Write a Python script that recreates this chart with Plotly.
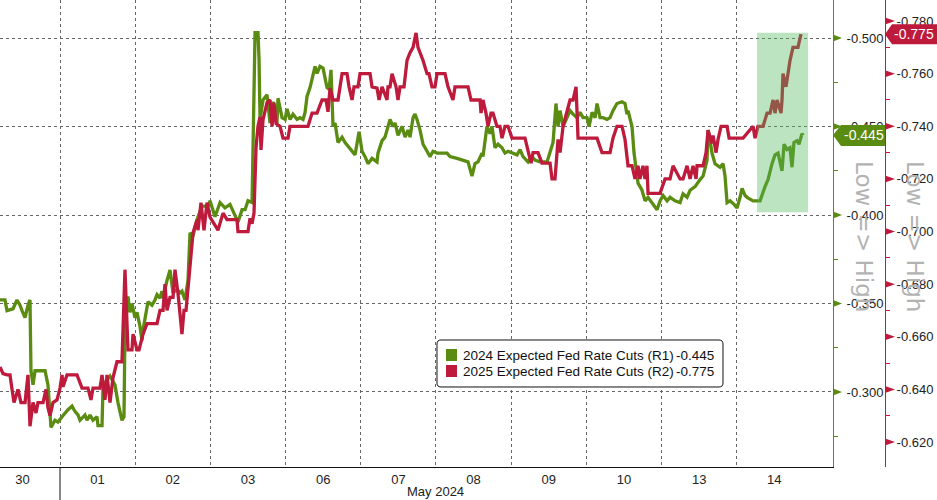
import plotly.graph_objects as go

# ---------------- data ----------------
day_labels = ['30', '01', '02', '03', '06', '07', '08', '09', '10', '13', '14']
month_label = 'May 2024'

r1_name = '2024 Expected Fed Rate Cuts (R1)'
r2_name = '2025 Expected Fed Rate Cuts (R2)'
r1_last = -0.445
r2_last = -0.775

# x = trading-session position (0 = start of Apr 30 session, 1 = May 01, ...)
r1_x = [0.202, 0.268, 0.295, 0.375, 0.428, 0.468, 0.495, 0.535, 0.574, 0.601,
        0.614, 0.641, 0.668, 0.801, 0.840, 0.867, 0.880, 0.933, 0.973, 1.027,
        1.066, 1.106, 1.160, 1.199, 1.239, 1.266, 1.332, 1.359, 1.399, 1.439,
        1.492, 1.505, 1.559, 1.572, 1.625, 1.665, 1.731, 1.771, 1.824, 1.851,
        1.864, 1.904, 1.931, 1.957, 1.997, 2.024, 2.064, 2.090, 2.104, 2.144,
        2.170, 2.223, 2.263, 2.290, 2.330, 2.356, 2.370, 2.423, 2.463, 2.503,
        2.556, 2.596, 2.622, 2.662, 2.702, 2.729, 2.769, 2.796, 2.835, 2.889,
        2.968, 2.995, 3.061, 3.128, 3.194, 3.261, 3.328, 3.367, 3.421, 3.461,
        3.500, 3.554, 3.594, 3.633, 3.647, 3.660, 3.700, 3.753, 3.793, 3.833,
        3.886, 3.899, 3.953, 3.993, 4.019, 4.059, 4.099, 4.152, 4.192, 4.232,
        4.259, 4.285, 4.325, 4.392, 4.418, 4.458, 4.498, 4.551, 4.578, 4.604,
        4.631, 4.658, 4.697, 4.751, 4.791, 4.884, 4.924, 4.977, 5.017, 5.057,
        5.096, 5.150, 5.216, 5.229, 5.283, 5.322, 5.389, 5.429, 5.456, 5.495,
        5.549, 5.589, 5.628, 5.655, 5.695, 5.721, 5.748, 5.788, 5.828, 5.881,
        5.921, 5.961, 6.014, 6.147, 6.187, 6.280, 6.359, 6.426, 6.479, 6.519,
        6.559, 6.612, 6.625, 6.678, 6.718, 6.745, 6.785, 6.825, 6.878, 6.918,
        6.958, 7.011, 7.078, 7.118, 7.158, 7.224, 7.277, 7.317, 7.384, 7.477,
        7.517, 7.557, 7.596, 7.623, 7.650, 7.690, 7.743, 7.783, 7.823, 7.876,
        7.916, 7.956, 8.009, 8.036, 8.076, 8.116, 8.142, 8.182, 8.222, 8.275,
        8.315, 8.354, 8.407, 8.474, 8.514, 8.540, 8.554, 8.607, 8.634, 8.673,
        8.687, 8.740, 8.780, 8.820, 8.873, 8.940, 8.980, 9.020, 9.073, 9.113,
        9.179, 9.246, 9.286, 9.339, 9.379, 9.446, 9.512, 9.552, 9.605, 9.618,
        9.645, 9.671, 9.711, 9.778, 9.818, 9.844, 9.871, 9.911, 9.964, 10.004,
        10.044, 10.071, 10.111, 10.137, 10.217, 10.310, 10.376, 10.416, 10.469, 10.509,
        10.549, 10.602, 10.629, 10.668, 10.708, 10.735, 10.761, 10.801, 10.828, 10.868,
        10.881]
r1_y = [-0.352, -0.352, -0.346, -0.347, -0.352, -0.349, -0.346, -0.342, -0.349, -0.352,
        -0.312, -0.304, -0.312, -0.312, -0.304, -0.286, -0.280, -0.284, -0.283, -0.286,
        -0.288, -0.290, -0.292, -0.289, -0.287, -0.284, -0.287, -0.284, -0.287, -0.284,
        -0.286, -0.281, -0.281, -0.303, -0.307, -0.309, -0.304, -0.294, -0.284, -0.286,
        -0.335, -0.354, -0.345, -0.350, -0.342, -0.345, -0.337, -0.329, -0.335, -0.345,
        -0.351, -0.349, -0.352, -0.355, -0.353, -0.357, -0.353, -0.363, -0.369, -0.356,
        -0.358, -0.356, -0.357, -0.352, -0.363, -0.390, -0.388, -0.393, -0.399, -0.405,
        -0.405, -0.408, -0.399, -0.407, -0.404, -0.406, -0.399, -0.396, -0.403, -0.403,
        -0.408, -0.407, -0.503, -0.503, -0.488, -0.454, -0.465, -0.468, -0.452, -0.464,
        -0.452, -0.466, -0.455, -0.454, -0.460, -0.454, -0.457, -0.454, -0.455, -0.454,
        -0.458, -0.467, -0.472, -0.484, -0.480, -0.484, -0.483, -0.472, -0.471, -0.482,
        -0.450, -0.452, -0.441, -0.444, -0.441, -0.436, -0.434, -0.447, -0.436, -0.433,
        -0.429, -0.432, -0.430, -0.435, -0.442, -0.444, -0.454, -0.450, -0.452, -0.445,
        -0.450, -0.444, -0.448, -0.444, -0.455, -0.457, -0.454, -0.448, -0.440, -0.436,
        -0.433, -0.436, -0.435, -0.435, -0.433, -0.432, -0.431, -0.430, -0.422, -0.429,
        -0.430, -0.435, -0.433, -0.450, -0.446, -0.450, -0.438, -0.440, -0.438, -0.435,
        -0.436, -0.435, -0.434, -0.437, -0.433, -0.430, -0.433, -0.431, -0.430, -0.430,
        -0.435, -0.441, -0.463, -0.450, -0.459, -0.450, -0.455, -0.459, -0.457, -0.455,
        -0.458, -0.455, -0.455, -0.450, -0.458, -0.455, -0.463, -0.455, -0.455, -0.454,
        -0.455, -0.459, -0.463, -0.464, -0.463, -0.457, -0.459, -0.450, -0.435, -0.422,
        -0.418, -0.414, -0.408, -0.410, -0.407, -0.403, -0.408, -0.411, -0.408, -0.410,
        -0.408, -0.407, -0.412, -0.410, -0.414, -0.416, -0.420, -0.422, -0.431, -0.448,
        -0.442, -0.435, -0.429, -0.427, -0.429, -0.422, -0.407, -0.408, -0.406, -0.404,
        -0.410, -0.415, -0.411, -0.410, -0.408, -0.408, -0.416, -0.420, -0.429, -0.434,
        -0.435, -0.425, -0.440, -0.437, -0.438, -0.427, -0.441, -0.442, -0.440, -0.446,
        -0.445]

r2_x = [0.202, 0.242, 0.295, 0.335, 0.362, 0.388, 0.441, 0.481, 0.535, 0.574,
        0.601, 0.641, 0.681, 0.707, 0.774, 0.814, 0.840, 0.867, 0.907, 0.960,
        1.000, 1.027, 1.040, 1.093, 1.226, 1.293, 1.372, 1.412, 1.439, 1.532,
        1.559, 1.598, 1.625, 1.665, 1.705, 1.758, 1.824, 1.864, 1.904, 1.957,
        1.971, 2.024, 2.051, 2.104, 2.157, 2.290, 2.330, 2.370, 2.396, 2.423,
        2.463, 2.503, 2.529, 2.569, 2.622, 2.649, 2.676, 2.729, 2.769, 2.822,
        2.835, 2.875, 2.915, 2.955, 2.995, 3.101, 3.168, 3.221, 3.354, 3.367,
        3.500, 3.527, 3.554, 3.580, 3.607, 3.633, 3.660, 3.673, 3.700, 3.753,
        3.793, 3.820, 3.846, 3.873, 3.926, 3.966, 4.032, 4.059, 4.298, 4.352,
        4.418, 4.485, 4.538, 4.564, 4.591, 4.631, 4.697, 4.751, 4.817, 4.844,
        4.884, 4.910, 4.963, 4.990, 5.123, 5.150, 5.216, 5.243, 5.283, 5.349,
        5.362, 5.389, 5.416, 5.469, 5.495, 5.522, 5.575, 5.615, 5.655, 5.695,
        5.735, 5.761, 5.828, 5.881, 5.907, 5.947, 5.987, 6.014, 6.120, 6.160,
        6.226, 6.253, 6.426, 6.466, 6.586, 6.599, 6.625, 6.665, 6.692, 6.732,
        6.758, 6.811, 6.851, 6.878, 6.918, 6.958, 7.011, 7.184, 7.224, 7.264,
        7.291, 7.357, 7.410, 7.517, 7.543, 7.583, 7.610, 7.623, 7.650, 7.690,
        7.783, 7.823, 7.863, 7.889, 8.142, 8.208, 8.315, 8.354, 8.407, 8.474,
        8.514, 8.554, 8.607, 8.647, 8.687, 8.713, 8.753, 8.780, 8.806, 8.820,
        8.980, 9.046, 9.113, 9.153, 9.246, 9.286, 9.339, 9.379, 9.419, 9.459,
        9.472, 9.552, 9.592, 9.618, 9.671, 9.685, 9.725, 9.751, 9.791, 9.871,
        9.898, 10.084, 10.217, 10.243, 10.283, 10.350, 10.403, 10.443, 10.483, 10.509,
        10.536, 10.589, 10.602, 10.615, 10.655, 10.708, 10.748, 10.814, 10.854]
r2_y = [-0.6485, -0.646, -0.6455, -0.6455, -0.640, -0.635, -0.640, -0.635, -0.635, -0.6455,
        -0.626, -0.635, -0.631, -0.635, -0.635, -0.640, -0.633, -0.630, -0.635, -0.636,
        -0.6405, -0.6455, -0.641, -0.6455, -0.6455, -0.6405, -0.6405, -0.636, -0.6405, -0.6405,
        -0.6455, -0.636, -0.6455, -0.635, -0.6445, -0.6505, -0.6505, -0.6855, -0.655, -0.655,
        -0.661, -0.655, -0.655, -0.661, -0.665, -0.665, -0.670, -0.670, -0.680, -0.670,
        -0.675, -0.675, -0.6855, -0.6765, -0.661, -0.670, -0.670, -0.6865, -0.6995, -0.7045,
        -0.7005, -0.711, -0.7005, -0.711, -0.7055, -0.7005, -0.707, -0.7045, -0.7045, -0.700,
        -0.700, -0.705, -0.703, -0.707, -0.732, -0.740, -0.7435, -0.731, -0.7425, -0.749,
        -0.750, -0.740, -0.749, -0.741, -0.740, -0.7355, -0.7355, -0.740, -0.740, -0.745,
        -0.745, -0.750, -0.750, -0.7455, -0.7545, -0.750, -0.750, -0.760, -0.760, -0.755,
        -0.750, -0.755, -0.755, -0.760, -0.760, -0.755, -0.7545, -0.750, -0.755, -0.750,
        -0.755, -0.755, -0.760, -0.755, -0.750, -0.755, -0.755, -0.765, -0.768, -0.770,
        -0.7755, -0.770, -0.765, -0.760, -0.760, -0.755, -0.755, -0.760, -0.760, -0.755,
        -0.750, -0.755, -0.755, -0.750, -0.750, -0.745, -0.750, -0.745, -0.740, -0.745,
        -0.745, -0.740, -0.740, -0.7355, -0.740, -0.740, -0.7355, -0.7355, -0.730, -0.726,
        -0.730, -0.730, -0.726, -0.726, -0.720, -0.720, -0.730, -0.735, -0.730, -0.740,
        -0.750, -0.750, -0.755, -0.7355, -0.7355, -0.730, -0.730, -0.7355, -0.740, -0.740,
        -0.735, -0.725, -0.725, -0.720, -0.725, -0.720, -0.725, -0.720, -0.725, -0.7145,
        -0.7145, -0.720, -0.720, -0.725, -0.720, -0.720, -0.725, -0.720, -0.725, -0.720,
        -0.725, -0.725, -0.730, -0.7385, -0.7335, -0.7365, -0.730, -0.735, -0.740, -0.740,
        -0.7355, -0.7355, -0.740, -0.7355, -0.740, -0.740, -0.745, -0.745, -0.750, -0.745,
        -0.750, -0.745, -0.750, -0.760, -0.755, -0.765, -0.770, -0.770, -0.775]

r1_ticks = [-0.500, -0.450, -0.400, -0.350, -0.300]
r1_minor = [-0.525, -0.475, -0.425, -0.375, -0.325, -0.275]
r2_ticks = [-0.780, -0.760, -0.740, -0.720, -0.700, -0.680, -0.660, -0.640, -0.620]
r2_minor = [-0.790, -0.770, -0.750, -0.730, -0.710, -0.690, -0.670, -0.650, -0.630, -0.610]

X_RANGE = [0.202, 11.28]
R1_RANGE = [-0.2576, -0.5215]   # bottom, top (axis reversed)
R2_RANGE = [-0.6105, -0.7880]
HIGHLIGHT_X = [10.27, 10.948]
HIGHLIGHT_Y = [-0.4015, -0.5030]

assert len(r1_x) == len(r1_y) and len(r2_x) == len(r2_y)

# ---------------- style / layout helpers ----------------
W, H = 937, 500
PLOT_R = 833     # px right edge of plotting area
PLOT_B = 467     # px bottom edge of plotting area
AX2_X = 885      # px position of R2 axis
GREEN = '#5b8c12'
RED = '#bd1a3c'
FONT = 'Liberation Sans'


def fx(p):
    return p / W


def fy(p):
    return (PLOT_B - p) / PLOT_B


def py1(v):
    return (v - R1_RANGE[1]) / (R1_RANGE[0] - R1_RANGE[1]) * PLOT_B


def py2(v):
    return (v - R2_RANGE[1]) / (R2_RANGE[0] - R2_RANGE[1]) * PLOT_B


def path(points, close=True):
    s = 'M ' + ' L '.join(f'{fx(a):.5f},{fy(b):.5f}' for a, b in points)
    return s + (' Z' if close else '')


fig = go.Figure()
fig.add_trace(go.Scatter(x=r1_x, y=r1_y, mode='lines', name=r1_name,
                         line=dict(color=GREEN, width=3.3), yaxis='y',
                         showlegend=False, hoverinfo='skip'))
fig.add_trace(go.Scatter(x=r2_x, y=r2_y, mode='lines', name=r2_name,
                         line=dict(color=RED, width=3.3), yaxis='y2',
                         showlegend=False, hoverinfo='skip'))

shapes = []
annotations = []

# highlight box
shapes.append(dict(type='rect', xref='x', yref='y', x0=HIGHLIGHT_X[0], x1=HIGHLIGHT_X[1],
                   y0=HIGHLIGHT_Y[0], y1=HIGHLIGHT_Y[1], fillcolor='rgba(80,185,90,0.38)',
                   line=dict(width=0), layer='above'))

# tick triangles
for t in r1_ticks:
    p = py1(t)
    shapes.append(dict(type='path', xref='paper', yref='paper',
                       path=path([(PLOT_R, p - 3.5), (PLOT_R + 9, p), (PLOT_R, p + 3.5)]),
                       fillcolor=GREEN, line=dict(width=0)))
for t in r2_ticks:
    p = py2(t)
    shapes.append(dict(type='path', xref='paper', yref='paper',
                       path=path([(AX2_X, p - 3.5), (AX2_X + 10, p), (AX2_X, p + 3.5)]),
                       fillcolor=RED, line=dict(width=0)))

# rotated labels
for xc in (864, 915):
    annotations.append(dict(xref='paper', yref='paper', x=fx(xc), y=fy(236),
                            text='Low => High', textangle=90, showarrow=False,
                            font=dict(family='DejaVu Sans', size=23, color='#b3b3b3'),
                            xanchor='center', yanchor='middle'))

# last-value tags
p = py1(r1_last)
shapes.append(dict(type='path', xref='paper', yref='paper',
                   path=path([(PLOT_R, p), (PLOT_R + 8, p - 10.5), (AX2_X, p - 10.5),
                              (AX2_X, p + 10.5), (PLOT_R + 8, p + 10.5)]),
                   fillcolor=GREEN, line=dict(width=0)))
annotations.append(dict(xref='paper', yref='paper', x=fx(864), y=fy(p),
                        text=f'{r1_last:.3f}', showarrow=False,
                        font=dict(family=FONT, size=14, color='white'),
                        xanchor='center', yanchor='middle'))
p = py2(r2_last)
shapes.append(dict(type='path', xref='paper', yref='paper',
                   path=path([(AX2_X, p), (AX2_X + 7, p - 10), (W, p - 10),
                              (W, p + 10), (AX2_X + 7, p + 10)]),
                   fillcolor=RED, line=dict(width=0)))
annotations.append(dict(xref='paper', yref='paper', x=fx(914), y=fy(p),
                        text=f'{r2_last:.3f}', showarrow=False,
                        font=dict(family=FONT, size=14, color='white'),
                        xanchor='center', yanchor='middle'))

# legend box (drawn)
L, R, T, B, rad = 437, 723, 340, 387, 4
box = (f'M {fx(L + rad):.5f},{fy(T):.5f} L {fx(R - rad):.5f},{fy(T):.5f} '
       f'Q {fx(R):.5f},{fy(T):.5f} {fx(R):.5f},{fy(T + rad):.5f} '
       f'L {fx(R):.5f},{fy(B - rad):.5f} Q {fx(R):.5f},{fy(B):.5f} {fx(R - rad):.5f},{fy(B):.5f} '
       f'L {fx(L + rad):.5f},{fy(B):.5f} Q {fx(L):.5f},{fy(B):.5f} {fx(L):.5f},{fy(B - rad):.5f} '
       f'L {fx(L):.5f},{fy(T + rad):.5f} Q {fx(L):.5f},{fy(T):.5f} {fx(L + rad):.5f},{fy(T):.5f} Z')
shapes.append(dict(type='path', xref='paper', yref='paper', path=box,
                   fillcolor='white', line=dict(color='#111', width=1), layer='above'))
for (name, val, col), yc in zip([(r1_name, r1_last, GREEN), (r2_name, r2_last, RED)], (355, 371)):
    shapes.append(dict(type='rect', xref='paper', yref='paper', x0=fx(446), x1=fx(457),
                       y0=fy(yc - 6), y1=fy(yc + 6), fillcolor=col, line=dict(width=0),
                       layer='above'))
    annotations.append(dict(xref='paper', yref='paper', x=fx(461), y=fy(yc), text=name,
                            showarrow=False, xanchor='left', yanchor='middle',
                            font=dict(family=FONT, size=13.5, color='#111')))
    annotations.append(dict(xref='paper', yref='paper', x=fx(716), y=fy(yc), text=f'{val:.3f}',
                            showarrow=False, xanchor='right', yanchor='middle',
                            font=dict(family=FONT, size=13.5, color='#111')))

# month label and separator
annotations.append(dict(xref='paper', yref='paper', x=fx(435), y=fy(491), text=month_label,
                        showarrow=False, xanchor='center', yanchor='middle',
                        font=dict(family=FONT, size=13, color='#222')))
shapes.append(dict(type='line', xref='x', yref='paper', x0=1, x1=1, y0=0, y1=fy(H),
                   line=dict(color='#111', width=1)))

fig.update_layout(
    width=W, height=H, autosize=False,
    margin=dict(l=0, r=0, t=0, b=H - PLOT_B, pad=0),
    paper_bgcolor='white', plot_bgcolor='white',
    showlegend=False,
    xaxis=dict(domain=[0, PLOT_R / W], range=X_RANGE, tickmode='array',
               tickvals=[i + 0.5 for i in range(len(day_labels))], ticktext=day_labels,
               ticks='', showgrid=False, zeroline=False,
               showline=True, linecolor='#111', linewidth=1,
               tickfont=dict(family=FONT, size=13, color='#222'),
               minor=dict(tickmode='array', tickvals=list(range(1, len(day_labels))),
                          showgrid=True, gridcolor='#666', griddash='dot', gridwidth=1,
                          ticks='')),
    yaxis=dict(range=R1_RANGE, side='right', anchor='x', tickmode='array',
               tickvals=r1_ticks, ticktext=[f'{t:.3f}' for t in r1_ticks],
               showgrid=True, gridcolor='#666', griddash='dot', gridwidth=1,
               zeroline=False, showline=True, linecolor=GREEN, linewidth=1,
               ticks='outside', ticklen=10, tickcolor='rgba(0,0,0,0)',
               tickfont=dict(family=FONT, size=13, color='#222'),
               minor=dict(tickmode='array', tickvals=r1_minor, ticks='outside',
                          ticklen=4, tickcolor=GREEN, showgrid=False)),
    yaxis2=dict(range=R2_RANGE, side='right', overlaying='y', anchor='free',
                position=AX2_X / W, tickmode='array',
                tickvals=r2_ticks, ticktext=[f'{t:.3f}' for t in r2_ticks],
                showgrid=False, zeroline=False, showline=True, linecolor=RED, linewidth=1,
                ticks='outside', ticklen=8, tickcolor='rgba(0,0,0,0)',
                tickfont=dict(family=FONT, size=13, color='#222'),
                minor=dict(tickmode='array', tickvals=r2_minor, ticks='outside',
                           ticklen=4, tickcolor=RED, showgrid=False)),
    shapes=shapes,
    annotations=annotations,
)

fig.write_html('out.html', config={'displayModeBar': False},
               post_script="document.body.style.margin='0';document.body.style.padding='0';")
